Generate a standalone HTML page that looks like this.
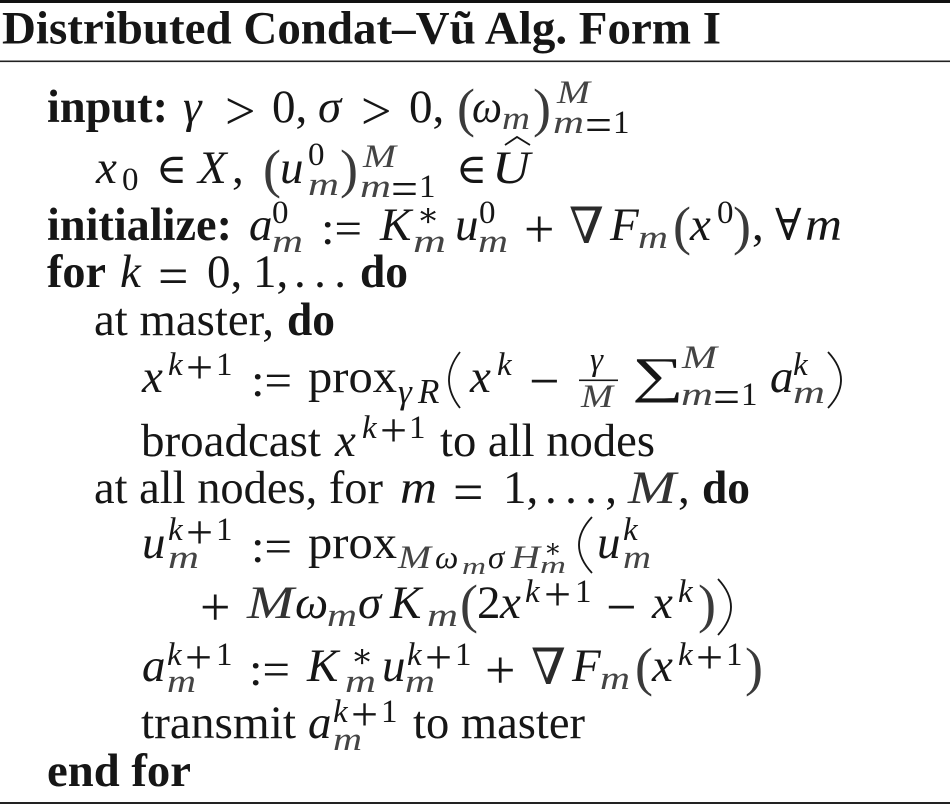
<!DOCTYPE html>
<html>
<head>
<meta charset="utf-8">
<style>
html,body{margin:0;padding:0;background:#fff}
svg{display:block}
text{font-family:"Liberation Serif","DejaVu Serif",serif;font-size:47px;fill:#161616}
.b{font-weight:bold}
.i{font-style:italic}
.s{font-size:33px}
.ss{font-size:24px}
.o{font-size:54px}
.p{font-size:54px;fill:#3a3a3a}
.so{font-size:48px}
.t{font-size:47px;font-weight:bold}
.n{font-size:50px;fill:#2a2a2a}
text.i.s[textLength],text.i.ss[textLength]{fill:#444}
path{fill:none;stroke:#161616;stroke-width:1.8}
</style>
</head>
<body>
<svg width="950" height="805" viewBox="0 0 950 805" xmlns="http://www.w3.org/2000/svg">
<rect x="0" y="0" width="950" height="3" fill="#111"/>
<rect x="0" y="60.5" width="950" height="1.6" fill="#222"/>
<rect x="0" y="802" width="950" height="2" fill="#222"/>

<text class="t" x="2" y="43.5" textLength="719" lengthAdjust="spacingAndGlyphs">Distributed Condat–Vũ Alg. Form I</text>

<!-- input -->
<text class="b" x="47" y="122" textLength="121" lengthAdjust="spacingAndGlyphs">input:</text>
<text class="i" x="183" y="122">γ</text><text class="o" x="225" y="129">&gt;</text><text x="272" y="122">0,</text>
<text class="i" x="318" y="122">σ</text><text class="o" x="361" y="129">&gt;</text><text x="409" y="122">0,</text>
<text class="p" x="457" y="126">(</text><text class="i" x="472" y="122" textLength="30" lengthAdjust="spacingAndGlyphs">ω</text><text class="i s" x="502" y="129" textLength="28" lengthAdjust="spacingAndGlyphs">m</text><text class="p" x="533" y="126">)</text>
<text class="i s" x="557" y="103" textLength="33" lengthAdjust="spacingAndGlyphs">M</text><text class="i s" x="553" y="133" textLength="31" lengthAdjust="spacingAndGlyphs">m</text><text class="so" x="585" y="141" textLength="27" lengthAdjust="spacingAndGlyphs">=</text><text class="s" x="613" y="133">1</text>

<!-- x0 -->
<text class="i" x="96" y="183">x</text><text class="s" x="122" y="190">0</text><text x="156" y="183" style="font-size:42px">∈</text>
<text class="i" x="198" y="183">X</text><text x="232" y="183">,</text>
<text class="p" x="263" y="187">(</text><text class="i" x="280" y="183">u</text><text class="s" x="308" y="165">0</text><text class="i s" x="308" y="195" textLength="31" lengthAdjust="spacingAndGlyphs">m</text><text class="p" x="340" y="187">)</text>
<text class="i s" x="363" y="167" textLength="33" lengthAdjust="spacingAndGlyphs">M</text><text class="i s" x="360" y="197" textLength="31" lengthAdjust="spacingAndGlyphs">m</text><text class="so" x="391" y="205" textLength="27" lengthAdjust="spacingAndGlyphs">=</text><text class="s" x="419" y="197">1</text>
<text x="456" y="183" style="font-size:42px">∈</text><text class="i" x="492" y="183" textLength="38" lengthAdjust="spacingAndGlyphs">U</text>
<path d="M505 145 L517 137 L530 145"/>

<!-- initialize -->
<text class="b" x="47" y="240" textLength="185" lengthAdjust="spacingAndGlyphs">initialize:</text>
<text class="i" x="249" y="240">a</text><text class="s" x="272" y="223">0</text><text class="i s" x="272" y="252" textLength="31" lengthAdjust="spacingAndGlyphs">m</text>
<text x="321" y="244" textLength="41" lengthAdjust="spacingAndGlyphs">:=</text><text class="i" x="380" y="240">K</text><text class="s" x="417" y="226">∗</text><text class="i s" x="413" y="252" textLength="33" lengthAdjust="spacingAndGlyphs">m</text>
<text class="i" x="455" y="240">u</text><text class="s" x="479" y="223">0</text><text class="i s" x="478" y="252" textLength="30" lengthAdjust="spacingAndGlyphs">m</text>
<text class="o" x="524" y="247">+</text><text class="n" x="569" y="243">∇</text><text class="i" x="610" y="240">F</text><text class="i s" x="638" y="248" textLength="30" lengthAdjust="spacingAndGlyphs">m</text>
<text class="p" x="673" y="244">(</text><text class="i" x="690" y="240">x</text><text class="s" x="717" y="223">0</text><text class="p" x="733" y="244">)</text><text x="752" y="240">,</text>
<text x="775" y="240" style="font-size:44px">∀</text><text class="i" x="805" y="240" textLength="37" lengthAdjust="spacingAndGlyphs">m</text>

<!-- for -->
<text class="b" x="47" y="287" textLength="59" lengthAdjust="spacingAndGlyphs">for</text><text class="i" x="120" y="287">k</text><text class="o" x="158" y="294">=</text><text x="207" y="287">0,</text><text x="253" y="287">1,</text><text x="294" y="287" textLength="52">. . .</text><text class="b" x="360" y="287" textLength="48" lengthAdjust="spacingAndGlyphs">do</text>

<!-- at master -->
<text x="94" y="335" textLength="180" lengthAdjust="spacingAndGlyphs">at master,</text><text class="b" x="287" y="335" textLength="48" lengthAdjust="spacingAndGlyphs">do</text>

<!-- x update -->
<text class="i" x="142" y="392">x</text><text class="i s" x="168" y="375">k</text><text class="so" x="186" y="383">+</text><text class="s" x="216" y="375">1</text>
<text x="251" y="396" textLength="41" lengthAdjust="spacingAndGlyphs">:=</text><text x="308" y="392" textLength="89" lengthAdjust="spacingAndGlyphs">prox</text><text class="i" x="398" y="403" style="font-size:35px">γ</text><text class="i" x="418" y="403" style="font-size:35px">R</text>
<path d="M460 352 Q438 380 460 408"/>
<text class="i" x="470" y="392">x</text><text class="i s" x="497" y="375">k</text>
<text class="o" x="529" y="399">−</text>
<text class="i s" x="590" y="370">γ</text><rect x="579" y="379.5" width="39" height="1.6" fill="#161616"/><text class="i s" x="581" y="407" textLength="32" lengthAdjust="spacingAndGlyphs">M</text>
<text transform="translate(632,392) scale(1.45,1)" style="font-size:50px">∑</text>
<text class="i s" x="682" y="368" textLength="35" lengthAdjust="spacingAndGlyphs">M</text><text class="i s" x="681" y="405" textLength="32" lengthAdjust="spacingAndGlyphs">m</text><text class="so" x="713" y="413" textLength="27" lengthAdjust="spacingAndGlyphs">=</text><text class="s" x="741" y="405">1</text>
<text class="i" x="770" y="392">a</text><text class="i s" x="793" y="375">k</text><text class="i s" x="793" y="403" textLength="32" lengthAdjust="spacingAndGlyphs">m</text>
<path d="M828 352 Q854 380 828 408"/>

<!-- broadcast -->
<text x="141" y="456" textLength="180" lengthAdjust="spacingAndGlyphs">broadcast</text><text class="i" x="335" y="456">x</text><text class="i s" x="362" y="438">k</text><text class="so" x="380" y="446">+</text><text class="s" x="409" y="438">1</text><text x="440" y="456" textLength="215" lengthAdjust="spacingAndGlyphs">to all nodes</text>

<!-- at all nodes -->
<text x="94" y="503" textLength="289" lengthAdjust="spacingAndGlyphs">at all nodes, for</text><text class="i" x="400" y="503" textLength="37" lengthAdjust="spacingAndGlyphs">m</text><text class="o" x="453" y="510">=</text><text x="503" y="503">1,</text><text x="545" y="503" textLength="72">. . . ,</text><text class="i" x="628" y="503" textLength="48" lengthAdjust="spacingAndGlyphs" style="fill:#333">M</text><text x="678" y="503">,</text><text class="b" x="702" y="503" textLength="48" lengthAdjust="spacingAndGlyphs">do</text>

<!-- u update -->
<text class="i" x="142" y="558">u</text><text class="i s" x="168" y="540">k</text><text class="so" x="186" y="548">+</text><text class="s" x="216" y="540">1</text><text class="i s" x="168" y="568" textLength="31" lengthAdjust="spacingAndGlyphs">m</text>
<text x="251" y="562" textLength="41" lengthAdjust="spacingAndGlyphs">:=</text><text x="308" y="558" textLength="89" lengthAdjust="spacingAndGlyphs">prox</text>
<text class="i s" x="398" y="568" textLength="33" lengthAdjust="spacingAndGlyphs">M</text><text class="i s" x="435" y="568">ω</text><text class="i ss" x="462" y="574" textLength="24" lengthAdjust="spacingAndGlyphs">m</text><text class="i s" x="488" y="568">σ</text><text class="i s" x="511" y="568" textLength="29" lengthAdjust="spacingAndGlyphs">H</text><text class="s" x="544" y="557" style="font-size:26px">∗</text><text class="i ss" x="540" y="573" textLength="26" lengthAdjust="spacingAndGlyphs">m</text>
<path d="M592 517 Q566 545 592 573"/>
<text class="i" x="597" y="558">u</text><text class="i s" x="623" y="540">k</text><text class="i s" x="623" y="568" textLength="28" lengthAdjust="spacingAndGlyphs">m</text>

<!-- second -->
<text class="o" x="200" y="625">+</text><text class="i" x="247" y="618" textLength="47" lengthAdjust="spacingAndGlyphs" style="fill:#333">M</text><text class="i" x="295" y="618">ω</text><text class="i s" x="327" y="626" textLength="30" lengthAdjust="spacingAndGlyphs">m</text><text class="i" x="358" y="618">σ</text><text class="i" x="390" y="618">K</text><text class="i s" x="427" y="626" textLength="31" lengthAdjust="spacingAndGlyphs">m</text>
<text class="p" x="460" y="622">(</text><text x="477" y="618">2</text><text class="i" x="500" y="618">x</text><text class="i s" x="525" y="602">k</text><text class="so" x="544" y="610">+</text><text class="s" x="575" y="602">1</text>
<text class="o" x="606" y="625">−</text><text class="i" x="652" y="618">x</text><text class="i s" x="678" y="602">k</text><text class="p" x="698" y="622">)</text>
<path d="M718 579 Q744 607 718 635"/>

<!-- a update -->
<text class="i" x="142" y="681">a</text><text class="i s" x="167" y="665">k</text><text class="so" x="185" y="673">+</text><text class="s" x="216" y="665">1</text><text class="i s" x="167" y="692" textLength="29" lengthAdjust="spacingAndGlyphs">m</text>
<text x="249" y="685" textLength="41" lengthAdjust="spacingAndGlyphs">:=</text><text class="i" x="307" y="681">K</text><text class="s" x="351" y="667">∗</text><text class="i s" x="345" y="692" textLength="31" lengthAdjust="spacingAndGlyphs">m</text>
<text class="i" x="382" y="681">u</text><text class="i s" x="407" y="665">k</text><text class="so" x="425" y="673">+</text><text class="s" x="455" y="665">1</text><text class="i s" x="405" y="692" textLength="30" lengthAdjust="spacingAndGlyphs">m</text>
<text class="o" x="485" y="688">+</text><text class="n" x="531" y="684">∇</text><text class="i" x="572" y="681">F</text><text class="i s" x="600" y="689" textLength="30" lengthAdjust="spacingAndGlyphs">m</text>
<text class="p" x="635" y="685">(</text><text class="i" x="652" y="681">x</text><text class="i s" x="678" y="665">k</text><text class="so" x="696" y="673">+</text><text class="s" x="726" y="665">1</text><text class="p" x="745" y="685">)</text>

<!-- transmit -->
<text x="141" y="738" textLength="155" lengthAdjust="spacingAndGlyphs">transmit</text><text class="i" x="308" y="738">a</text><text class="i s" x="333" y="722">k</text><text class="so" x="351" y="730">+</text><text class="s" x="381" y="722">1</text><text class="i s" x="333" y="750" textLength="29" lengthAdjust="spacingAndGlyphs">m</text><text x="413" y="738" textLength="172" lengthAdjust="spacingAndGlyphs">to master</text>

<text class="b" x="47" y="786" textLength="144" lengthAdjust="spacingAndGlyphs">end for</text>
</svg>
</body>
</html>
